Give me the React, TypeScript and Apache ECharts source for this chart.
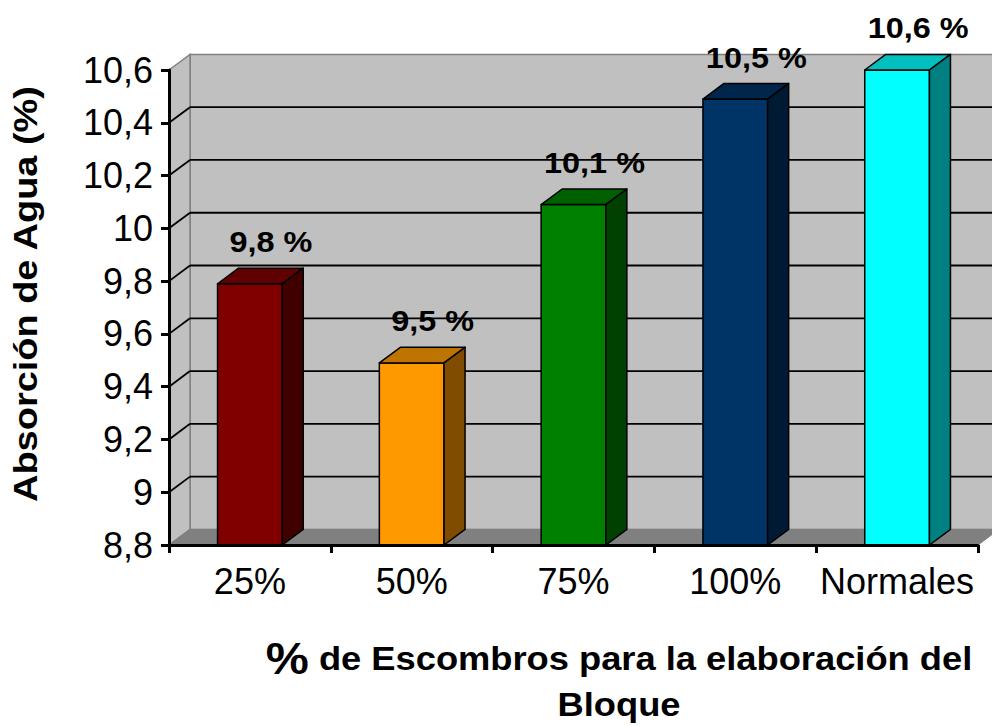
import React, { useEffect, useRef } from "react";
import * as echarts from "echarts";

const categories = ["25%", "50%", "75%", "100%", "Normales"];
const values = [9.79, 9.49, 10.09, 10.49, 10.6];
const gridLevels = [9.0, 9.2, 9.4, 9.6, 9.8, 10.0, 10.2, 10.4];
const yMin = 8.8;
const yMax = 10.6;
const yStep = 0.2;

const frontColors = ["#800000", "#FF9900", "#008000", "#003366", "#00FFFF"];
const topColors = ["#600000", "#BF7300", "#006000", "#00264C", "#00BFBF"];
const sideColors = ["#400000", "#804D00", "#004000", "#001A33", "#008080"];

const DX = 21;
const DY = -15.6;
const FONT = "'Liberation Sans', Arial, sans-serif";

const fmt = (v: number) => String(Math.round(v * 10) / 10).replace(".", ",");

export default function App() {
  const ref = useRef<HTMLDivElement>(null);
  useEffect(() => {
    if (!ref.current) return;
    const chart = echarts.init(ref.current, undefined, { renderer: "svg" });
    const option: any = {
      animation: false,
      backgroundColor: "#ffffff",
      grid: { left: 169, right: 14, top: 70, bottom: 181, containLabel: false },
      xAxis: {
        type: "category",
        data: categories,
        z: 10,
        axisLine: { lineStyle: { color: "#000", width: 3 } },
        axisTick: { show: true, length: 8, lineStyle: { color: "#000", width: 3 } },
        axisLabel: { color: "#000", fontSize: 36, fontFamily: FONT, margin: 18, interval: 0 },
        splitLine: { show: false },
      },
      yAxis: {
        type: "value",
        min: yMin,
        max: yMax,
        interval: yStep,
        z: 10,
        axisLine: { show: true, lineStyle: { color: "#000", width: 3 } },
        axisTick: { show: true, length: 8, lineStyle: { color: "#000", width: 3 } },
        axisLabel: { color: "#000", fontSize: 36, fontFamily: FONT, margin: 16, formatter: fmt },
        splitLine: { show: false },
      },
      graphic: [
        {
          type: "text",
          x: 26,
          y: 294,
          rotation: Math.PI / 2,
          scaleX: 1.15,
          style: {
            text: "Absorción de Agua (%)",
            font: `bold 33px ${FONT}`,
            fill: "#000",
            align: "center",
            verticalAlign: "middle",
          },
        },
        {
          type: "text",
          x: 619,
          y: 682,
          scaleX: 1.1,
          style: {
            text: "{p|%}{t| de Escombros para la elaboración del}\n{t|Bloque}",
            fill: "#000",
            align: "center",
            verticalAlign: "middle",
            lineHeight: 46,
            rich: {
              p: { fontSize: 44, fontWeight: "bold", fontFamily: FONT, fill: "#000", lineHeight: 46 },
              t: { fontSize: 33, fontWeight: "bold", fontFamily: FONT, fill: "#000", lineHeight: 46 },
            },
          },
        },
      ],
      series: [
        {
          type: "custom",
          z: 1,
          silent: true,
          data: [[0]],
          renderItem: (params: any, api: any) => {
            const cs = params.coordSys;
            const x0 = cs.x, x1 = cs.x + cs.width, yt = cs.y, yb = cs.y + cs.height;
            return {
              type: "group",
              children: [
                {
                  type: "rect",
                  shape: { x: x0 + DX, y: yt + DY, width: cs.width, height: cs.height },
                  style: { fill: "#C0C0C0", stroke: "#808080", lineWidth: 1.5 },
                },
                {
                  type: "polygon",
                  shape: { points: [[x0, yt], [x0 + DX, yt + DY], [x0 + DX, yb + DY], [x0, yb]] },
                  style: { fill: "#C0C0C0", stroke: "#808080", lineWidth: 1.5 },
                },
                {
                  type: "polygon",
                  shape: { points: [[x0, yb], [x0 + DX, yb + DY], [x1 + DX, yb + DY], [x1, yb]] },
                  style: { fill: "#808080", stroke: "#808080", lineWidth: 1 },
                },
              ],
            };
          },
        },
        {
          type: "custom",
          z: 2,
          silent: true,
          data: gridLevels.map((v) => [0, v]),
          renderItem: (params: any, api: any) => {
            const cs = params.coordSys;
            const p = api.coord([0, api.value(1)]);
            const y = p[1];
            const x0 = cs.x, x1 = cs.x + cs.width;
            return {
              type: "group",
              children: [
                {
                  type: "line",
                  shape: { x1: x0 + DX, y1: y + DY, x2: x1 + DX, y2: y + DY },
                  style: { stroke: "#000", lineWidth: 1.8 },
                },
                {
                  type: "line",
                  shape: { x1: x0, y1: y, x2: x0 + DX, y2: y + DY },
                  style: { stroke: "#000", lineWidth: 1.8 },
                },
              ],
            };
          },
        },
        {
          type: "custom",
          z: 3,
          data: values.map((v, i) => [i, v]),
          encode: { x: 0, y: 1 },
          renderItem: (params: any, api: any) => {
            const i = api.value(0);
            const v = api.value(1);
            const top = api.coord([i, v]);
            const base = api.coord([i, yMin]);
            const w = api.size([1, 0])[0] * 0.4;
            const hw = w / 2;
            const lx = top[0] - hw, rx = top[0] + hw;
            const stroke = { stroke: "#000", lineWidth: 1.5, lineJoin: "round" };
            return {
              type: "group",
              children: [
                {
                  type: "rect",
                  shape: { x: lx, y: top[1], width: w, height: base[1] - top[1] },
                  style: { fill: frontColors[i], ...stroke },
                },
                {
                  type: "polygon",
                  shape: { points: [[lx, top[1]], [lx + DX, top[1] + DY], [rx + DX, top[1] + DY], [rx, top[1]]] },
                  style: { fill: topColors[i], ...stroke },
                },
                {
                  type: "polygon",
                  shape: { points: [[rx, top[1]], [rx + DX, top[1] + DY], [rx + DX, base[1] + DY], [rx, base[1]]] },
                  style: { fill: sideColors[i], ...stroke },
                },
                {
                  type: "text",
                  x: top[0] + DX,
                  y: top[1] + DY - 26,
                  scaleX: 1.08,
                  style: {
                    text: fmt(v) + " %",
                    font: `bold 30px ${FONT}`,
                    fill: "#000",
                    align: "center",
                    verticalAlign: "middle",
                  },
                },
              ],
            };
          },
        },
      ],
    };
    chart.setOption(option);
    return () => chart.dispose();
  }, []);
  return (
    <div
      ref={ref}
      style={{ position: "fixed", left: 0, top: 0, width: 992, height: 726 }}
    />
  );
}
